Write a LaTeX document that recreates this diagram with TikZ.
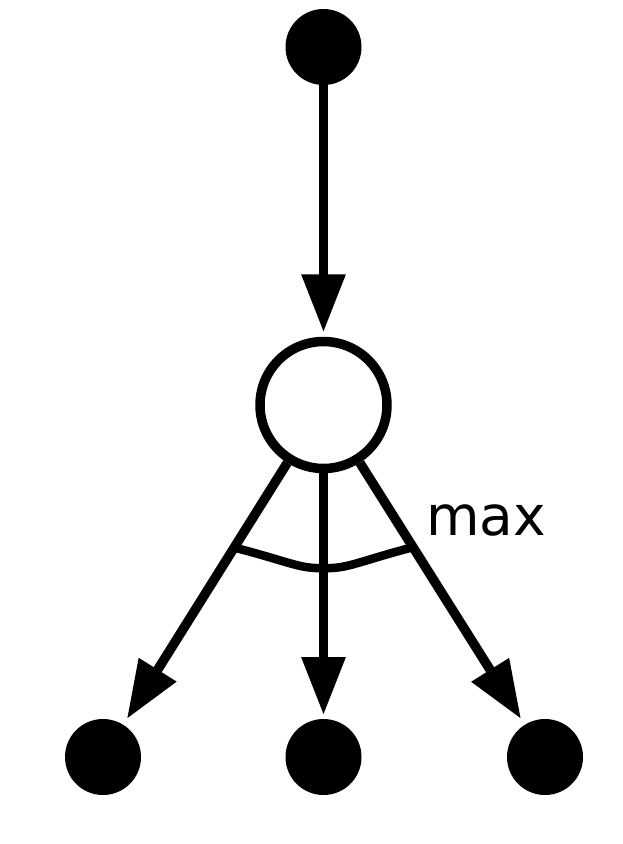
\documentclass[tikz,border=0pt]{standalone}
\usepackage{fontspec}
\setmainfont{DejaVu Sans}
\usetikzlibrary{arrows.meta}
\begin{document}
\begin{tikzpicture}[x=1pt,y=-1pt,
  dot/.style={circle,fill=black,minimum size=76pt,inner sep=0pt,outer sep=0pt},
  hollow/.style={circle,draw=black,line width=9.5pt,minimum size=127pt,inner sep=0pt,outer sep=4.75pt},
  conn/.style={line width=9.5pt,-{Triangle[length=58pt,width=42pt]}}]
\useasboundingbox (0,0) rectangle (623,844);
\node[dot] (top) at (323.5,47) {};
\node[hollow] (mid) at (323.5,405) {};
\node[dot] (bl) at (103,757) {};
\node[dot] (bm) at (323.5,757) {};
\node[dot] (br) at (545,757) {};
\draw[conn,shorten >=4.5pt] (top) -- (mid);
\draw[conn,shorten >=7pt] (mid) -- (bl);
\draw[conn,shorten >=4pt] (mid) -- (bm);
\draw[conn,shorten >=7pt] (mid) -- (br);
\coordinate (al) at (236,548);
\coordinate (ar) at (410,548);
\draw[line width=8.5pt] (al) .. controls (290,562) and (300,569) .. (323.5,568) .. controls (347,569) and (357,562) .. (ar);
\node[font=\fontsize{55pt}{60pt}\selectfont,inner sep=0pt] (lbl) at (486,520) {max};
\end{tikzpicture}
\end{document}
